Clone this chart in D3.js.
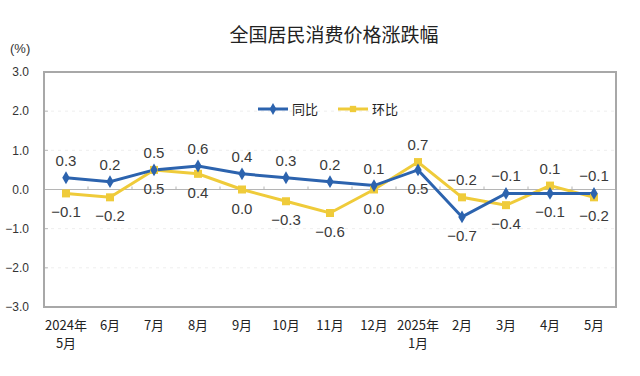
<!DOCTYPE html>
<html>
<head>
    <meta charset="utf-8">
    <title>全国居民消费价格涨跌幅</title>
    <script src="https://d3js.org/d3.v7.min.js"></script>
    <style>
        body { margin: 0; background: #fff; }
        svg { display: block; font-family: "Liberation Sans", Arial, sans-serif; }
        .cjk { font-family: "Noto Sans CJK SC", sans-serif; }
    </style>
</head>
<body>
    <svg width="640" height="376"></svg>
    <script>
        // months (two-line labels where the year changes)
        var months = [["2024年", "5月"], ["6月"], ["7月"], ["8月"], ["9月"], ["10月"], ["11月"],
                      ["12月"], ["2025年", "1月"], ["2月"], ["3月"], ["4月"], ["5月"]];
        var yoy = [0.3, 0.2, 0.5, 0.6, 0.4, 0.3, 0.2, 0.1, 0.5, -0.7, -0.1, -0.1, -0.1];   // 同比
        var mom = [-0.1, -0.2, 0.5, 0.4, 0.0, -0.3, -0.6, 0.0, 0.7, -0.2, -0.4, 0.1, -0.2]; // 环比
        var yTicks = [3, 2, 1, 0, -1, -2, -3];

        var blue = "#2c63ae", yellow = "#efcb3a";

        var svg = d3.select("svg"),
            margin = {top: 72, right: 24, bottom: 69, left: 44},
            width = 640 - margin.left - margin.right,
            height = 376 - margin.top - margin.bottom,
            g = svg.append("g").attr("transform", "translate(" + margin.left + "," + margin.top + ")");

        var x = d3.scaleBand().domain(d3.range(months.length)).range([0, width]);
        var y = d3.scaleLinear().domain([-3, 3]).range([height, 0]);
        var cx = function(i) { return x(i) + x.bandwidth() / 2; };

        // faint grid
        g.selectAll(".grid").data(yTicks.filter(function(d) { return d !== 0 && d !== 3 && d !== -3; }))
            .enter().append("line")
            .attr("x1", 0).attr("x2", width)
            .attr("y1", function(d) { return y(d); }).attr("y2", function(d) { return y(d); })
            .attr("stroke", "#eeeeee").attr("stroke-dasharray", "3,4");

        // y axis labels + small ticks
        g.selectAll(".ylab").data(yTicks).enter().append("text")
            .attr("x", -15).attr("y", function(d) { return y(d); })
            .attr("dy", "0.35em").attr("text-anchor", "end")
            .attr("font-size", 12).attr("fill", "#333")
            .text(function(d) { return d3.format(".1f")(d); });
        g.selectAll(".ytick").data(yTicks).enter().append("line")
            .attr("x1", 0).attr("x2", 4)
            .attr("y1", function(d) { return y(d); }).attr("y2", function(d) { return y(d); })
            .attr("stroke", "#bbb");

        // zero line with category ticks
        g.append("line").attr("x1", 0).attr("x2", width)
            .attr("y1", y(0)).attr("y2", y(0)).attr("stroke", "#b5b5b5").attr("stroke-width", 1.2);
        g.selectAll(".xtick").data(d3.range(1, months.length)).enter().append("line")
            .attr("x1", function(i) { return x(i); }).attr("x2", function(i) { return x(i); })
            .attr("y1", y(0) - 3).attr("y2", y(0))
            .attr("stroke", "#b5b5b5");

        // frame
        g.append("rect").attr("width", width).attr("height", height)
            .attr("fill", "none").attr("stroke", "#a8a8a8").attr("stroke-width", 2);

        // lines
        var line = d3.line().x(function(d, i) { return cx(i); }).y(function(d) { return y(d); });
        g.append("path").datum(mom).attr("d", line)
            .attr("fill", "none").attr("stroke", yellow).attr("stroke-width", 3);
        g.append("path").datum(yoy).attr("d", line)
            .attr("fill", "none").attr("stroke", blue).attr("stroke-width", 3);

        // markers
        g.selectAll(".sq").data(mom).enter().append("rect")
            .attr("x", function(d, i) { return cx(i) - 4; })
            .attr("y", function(d) { return y(d) - 4; })
            .attr("width", 8).attr("height", 8).attr("fill", yellow);
        g.selectAll(".dm").data(yoy).enter().append("path")
            .attr("d", d3.symbol().type(d3.symbolDiamond).size(48))
            .attr("transform", function(d, i) { return "translate(" + cx(i) + "," + y(d) + ")"; })
            .attr("fill", blue);

        // value labels: higher series above, lower below
        function addLabels(vals, other, isBlue) {
            g.selectAll(null).data(vals).enter().append("text")
                .attr("x", function(d, i) { return cx(i); })
                .attr("y", function(d, i) {
                    var above = isBlue ? d >= other[i] : d > other[i];
                    return above ? y(d) - 12 : y(d) + 24;
                })
                .attr("text-anchor", "middle").attr("font-size", 15).attr("fill", "#3a3a3a")
                .text(function(d) { return d3.format(".1f")(d); });
        }
        addLabels(yoy, mom, true);
        addLabels(mom, yoy, false);

        // x labels
        var xl = g.selectAll(".xl").data(months).enter().append("text")
            .attr("class", "cjk")
            .attr("x", function(d, i) { return cx(i); })
            .attr("y", height + 23)
            .attr("text-anchor", "middle").attr("font-size", 13).attr("fill", "#222");
        xl.selectAll("tspan").data(function(d) { return d; }).enter().append("tspan")
            .attr("x", function() { return d3.select(this.parentNode).attr("x"); })
            .attr("dy", function(d, j) { return j === 0 ? 0 : 18; })
            .text(function(d) { return d; });

        // legend
        var legend = [["同比", blue, "diamond"], ["环比", yellow, "square"]];
        var lg = g.selectAll(".lg").data(legend).enter().append("g")
            .attr("transform", function(d, i) { return "translate(" + (214 + i * 80) + "," + 37 + ")"; });
        lg.append("line").attr("x1", 0).attr("x2", 30)
            .attr("stroke", function(d) { return d[1]; }).attr("stroke-width", 3);
        lg.append("path")
            .attr("d", function(d) {
                return d3.symbol().type(d[2] === "diamond" ? d3.symbolDiamond : d3.symbolSquare).size(40)();
            })
            .attr("transform", "translate(15,0)")
            .attr("fill", function(d) { return d[1]; });
        lg.append("text").attr("class", "cjk").attr("x", 34).attr("dy", "0.35em")
            .attr("font-size", 13).attr("fill", "#222")
            .text(function(d) { return d[0]; });

        // title and unit
        svg.append("text").attr("class", "cjk")
            .attr("x", 334).attr("y", 42).attr("text-anchor", "middle")
            .attr("font-size", 19).attr("fill", "#222")
            .text("全国居民消费价格涨跌幅");
        svg.append("text")
            .attr("x", 10).attr("y", 53)
            .attr("font-size", 13).attr("fill", "#333")
            .text("(%)");
    </script>
</body>
</html>
